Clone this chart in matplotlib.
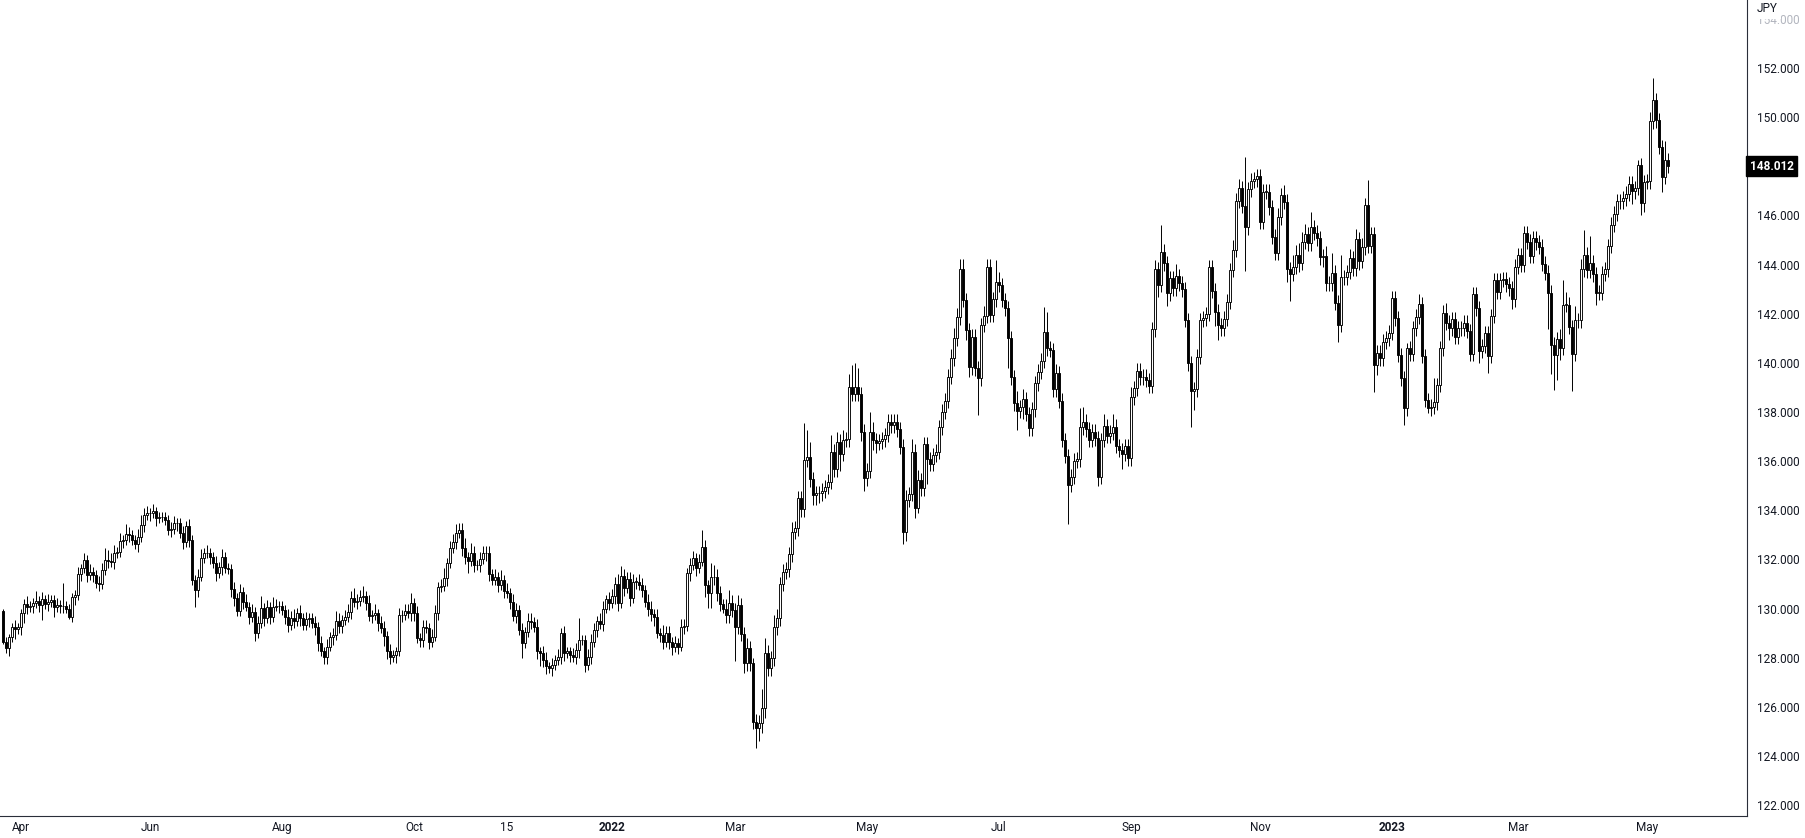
"""EUR/JPY daily candles, Mar 2021 - May 2023, TradingView-style hollow candles."""

import matplotlib

matplotlib.use("Agg")
import matplotlib.pyplot as plt  # noqa: E402
import numpy as np  # noqa: E402
import pandas as pd  # noqa: E402

INK = "#131722"
AXIS = "#2a2e39"
FADED = "#b2b5be"

FIRST_OPEN = 129.90
LAST_LABEL = "148.012"
START_DAY = "2021-03-24"

# daily closes
close_a = [128.65, 128.38, 128.85, 129.23, 129.15, 129.23, 129.80, 130.20, 130.07, 130.10,
           130.24, 130.30, 130.14, 130.37, 130.20, 130.28, 130.34, 130.07, 130.14, 130.12,
           130.10, 130.00, 129.67, 130.45, 130.55, 131.40, 131.63, 131.97, 131.36, 131.50,
           131.36, 131.02, 131.00, 131.56, 131.97, 131.95, 131.90, 132.27, 132.31, 132.76,
           132.79, 133.03, 133.00, 132.79, 132.62, 132.92, 133.40, 133.81]
close_b = [133.87, 133.90, 133.95, 133.67, 133.71, 133.71, 133.60, 133.20, 133.22, 133.47,
           133.47, 133.06, 132.72, 133.36, 132.79, 131.16, 130.75, 131.30, 132.04, 132.27,
           132.25, 132.10, 131.84, 131.43, 131.68, 132.11, 131.64, 131.60, 130.78, 130.42,
           129.91, 130.69, 130.28, 130.08, 129.67, 129.87, 128.99, 129.40, 130.01, 129.60,
           130.05, 129.67, 130.08, 130.10, 130.10, 129.95, 129.67]
close_c = [129.33, 129.60, 129.50, 129.83, 129.60, 129.33, 129.56, 129.60, 129.40, 129.24,
           128.59, 128.25, 128.04, 128.45, 128.83, 128.92, 129.51, 129.29, 129.53, 129.64,
           129.87, 130.42, 130.28, 130.31, 130.45, 130.51, 130.24, 129.70, 129.74, 129.80,
           129.40, 129.20, 128.88, 128.25, 128.04, 128.10, 128.25, 129.74, 129.74, 129.90,
           129.80, 130.24, 129.80, 128.79, 128.72, 129.24, 129.20]
close_d = [128.65, 128.86, 129.83, 130.87, 130.92, 131.23, 131.84, 132.45, 132.72, 133.06,
           133.20, 132.45, 132.11, 131.95, 132.25, 131.77, 131.77, 132.00, 132.25, 132.25,
           131.41, 131.16, 131.30, 130.96, 131.16, 130.73, 130.62, 130.28, 129.70, 129.94,
           129.13, 128.59, 129.06, 129.51, 129.47, 129.26, 128.25, 128.18, 127.91, 127.64,
           127.57, 127.70, 127.91, 128.04, 129.00, 128.18, 128.25]
close_e = [128.11, 128.04, 128.30, 128.72, 128.72, 127.70, 128.04, 128.65, 129.13, 129.50,
           129.37, 130.00, 130.37, 130.24, 130.50, 131.00, 130.21, 131.32, 130.82, 131.19,
           130.41, 131.09, 131.09, 130.95, 130.75, 130.28, 130.00, 129.78, 129.67, 128.99,
           128.92, 128.65, 128.99, 128.65, 128.42, 128.60, 128.45, 129.26, 129.29, 131.43,
           131.77, 132.04, 131.64, 131.91, 132.49, 130.96, 130.62]
close_f = [131.27, 131.29, 130.62, 130.18, 130.00, 129.73, 130.24, 129.94, 129.26, 130.13,
           128.96, 127.77, 128.38, 127.77, 125.39, 125.12, 125.35, 125.94, 128.20, 127.56,
           127.97, 129.23, 129.60, 131.00, 131.50, 131.59, 132.20, 133.13, 133.26, 134.48,
           134.04, 136.04, 136.18, 135.26, 134.62, 134.70, 134.69, 134.80, 134.95, 135.16,
           136.38, 135.66, 136.79, 136.29, 136.86, 136.88, 139.03]
close_g = [138.73, 139.00, 138.73, 137.20, 135.30, 135.61, 137.20, 136.86, 136.75, 136.80,
           136.89, 137.06, 137.60, 137.45, 137.60, 137.29, 136.59, 133.13, 134.42, 134.66,
           136.38, 134.08, 135.23, 134.89, 136.70, 136.07, 135.88, 136.25, 136.38, 137.37,
           138.01, 138.46, 139.44, 140.18, 141.00, 141.85, 143.81, 142.56, 141.34, 139.82,
           141.07, 139.78, 139.37, 141.54, 141.91, 143.91, 141.95]
close_h = [142.59, 143.30, 143.17, 142.56, 142.22, 141.00, 139.41, 138.35, 138.05, 138.20,
           138.52, 137.92, 137.34, 138.11, 139.17, 139.64, 140.09, 141.27, 140.59, 140.52,
           138.92, 139.57, 138.46, 136.86, 136.21, 135.03, 135.37, 136.02, 136.07, 137.38,
           137.61, 137.30, 136.86, 137.20, 136.93, 135.37, 136.86, 137.43, 137.02, 137.15,
           137.40, 136.62, 136.45, 136.29, 136.62, 136.11, 138.60]
close_i = [138.96, 139.68, 139.41, 139.44, 139.30, 139.06, 141.36, 143.80, 143.17, 144.52,
           144.05, 142.83, 143.44, 143.03, 143.53, 143.24, 143.00, 141.74, 139.98, 138.87,
           138.92, 140.25, 141.74, 141.81, 141.99, 143.89, 142.94, 142.08, 141.54, 141.40,
           141.80, 142.49, 143.78, 144.59, 146.60, 147.10, 146.38, 145.52, 147.06, 147.41,
           147.47, 147.60, 145.75, 146.97, 146.97, 146.33, 145.14]
close_j = [144.49, 145.92, 146.83, 146.56, 143.81, 143.62, 143.90, 144.39, 144.08, 144.93,
           145.24, 144.86, 145.52, 145.30, 145.07, 144.30, 144.35, 143.24, 143.24, 143.67,
           142.45, 141.54, 143.48, 143.48, 143.70, 144.25, 143.85, 145.03, 144.16, 144.70,
           146.43, 144.76, 145.24, 139.91, 140.41, 140.18, 140.86, 141.00, 141.23, 142.63,
           141.81, 140.32, 139.37, 138.15, 140.59, 140.36]
close_k = [141.41, 141.88, 142.40, 140.28, 138.49, 138.15, 138.22, 138.40, 139.10, 140.59,
           142.04, 141.64, 141.41, 141.77, 141.07, 141.41, 141.41, 141.64, 141.30, 140.36,
           142.80, 142.22, 140.50, 140.69, 141.20, 140.28, 141.91, 143.37, 142.90, 143.37,
           143.40, 143.20, 143.03, 142.59, 143.92, 144.39, 143.98, 145.27, 144.93, 144.35,
           145.07, 144.90, 144.73, 144.03, 143.67, 142.86]
close_l = [140.74, 140.30, 140.96, 140.60, 142.37, 142.37, 141.46, 140.37, 141.73, 141.73,
           143.81, 144.40, 143.77, 144.08, 143.60, 142.86, 142.86, 143.63, 143.81, 144.76,
           145.62, 146.07, 146.57, 146.57, 146.70, 146.89, 147.29, 146.98, 147.12, 148.04,
           146.52, 147.36, 147.39, 149.83, 150.68, 149.87, 148.79, 147.56, 148.24, 148.01]

# wick lengths beyond the body, in tenths of a yen (upper / lower)
up_a = [1, 2, 1, 2, 3, 2, 2, 2, 3, 2, 2, 4, 2, 3, 2, 3, 2, 2, 3, 2, 9, 2, 2, 2, 2, 3, 2, 3, 2, 3,
        2, 2, 3, 3, 5, 4, 3, 3, 2, 3, 2, 4, 3, 2, 2, 3, 4, 3]
dn_a = [1, 2, 3, 2, 4, 2, 3, 4, 3, 2, 3, 2, 3, 6, 2, 3, 2, 4, 2, 3, 3, 2, 1, 2, 3, 2, 3, 2, 3, 2,
        3, 2, 3, 2, 2, 3, 2, 3, 2, 2, 3, 2, 3, 2, 2, 3, 2, 3]
up_b = [3, 2, 3, 2, 2, 2, 2, 2, 3, 3, 2, 2, 3, 2, 3, 2, 2, 3, 4, 2, 3, 2, 2, 3, 2, 3, 2, 2, 2, 3,
        2, 3, 2, 3, 2, 3, 2, 3, 5, 2, 3, 2, 4, 3, 2, 2, 2]
dn_b = [2, 3, 2, 3, 2, 2, 2, 2, 3, 2, 3, 2, 3, 2, 3, 2, 7, 3, 2, 2, 2, 3, 2, 3, 2, 3, 2, 2, 3, 3,
        2, 2, 3, 2, 3, 2, 3, 2, 2, 3, 2, 3, 2, 2, 3, 2, 3]
up_c = [3, 3, 4, 2, 3, 2, 3, 2, 2, 3, 2, 3, 2, 3, 2, 3, 4, 3, 2, 3, 3, 3, 4, 3, 3, 4, 2, 3, 2, 4,
        2, 3, 3, 2, 3, 2, 2, 3, 2, 3, 3, 4, 2, 3, 2, 3, 3]
dn_c = [3, 2, 3, 2, 3, 2, 2, 3, 2, 3, 3, 2, 3, 3, 2, 3, 2, 3, 3, 2, 2, 3, 2, 3, 2, 2, 3, 2, 3, 2,
        3, 2, 4, 3, 3, 2, 3, 2, 3, 2, 2, 3, 3, 2, 3, 3, 2]
up_d = [2, 3, 3, 2, 3, 4, 2, 3, 3, 4, 3, 3, 4, 2, 4, 3, 2, 3, 3, 3, 3, 2, 3, 2, 4, 2, 3, 2, 3, 3,
        2, 3, 2, 3, 3, 2, 3, 2, 3, 3, 2, 3, 2, 3, 2, 3, 2]
dn_d = [3, 2, 2, 3, 2, 2, 3, 2, 2, 3, 2, 3, 3, 5, 2, 3, 2, 3, 2, 3, 3, 2, 2, 3, 2, 3, 2, 3, 2, 3,
        2, 6, 2, 2, 3, 2, 3, 5, 3, 3, 2, 3, 2, 2, 3, 3, 2]
up_e = [2, 3, 3, 9, 2, 2, 3, 3, 3, 2, 3, 3, 2, 3, 3, 3, 4, 4, 3, 3, 3, 3, 2, 3, 3, 2, 3, 3, 2, 3,
        2, 4, 3, 3, 2, 3, 2, 3, 3, 2, 3, 3, 2, 3, 7, 3, 2]
dn_e = [3, 2, 3, 3, 2, 3, 2, 3, 2, 3, 2, 3, 2, 3, 2, 3, 3, 2, 3, 2, 3, 2, 3, 2, 3, 2, 3, 3, 4, 2,
        3, 3, 2, 3, 3, 2, 3, 2, 3, 2, 3, 2, 3, 2, 2, 5, 6]
up_f = [6, 5, 3, 3, 2, 4, 5, 3, 3, 4, 3, 3, 4, 3, 2, 3, 3, 8, 6, 3, 3, 5, 4, 3, 3, 3, 3, 4, 3, 3,
        3, 15, 11, 6, 3, 3, 3, 3, 3, 3, 7, 3, 4, 3, 4, 3, 5]
dn_f = [6, 3, 3, 3, 2, 3, 3, 3, 14, 3, 3, 4, 3, 3, 3, 8, 5, 4, 4, 3, 3, 3, 3, 3, 3, 3, 3, 3, 3, 3,
        3, 3, 3, 3, 4, 4, 4, 3, 3, 3, 3, 3, 3, 7, 3, 3, 3]
up_g = [9, 10, 8, 3, 3, 3, 8, 4, 3, 3, 3, 3, 3, 3, 3, 3, 3, 3, 4, 3, 5, 3, 4, 3, 3, 3, 3, 3, 3, 3,
        3, 3, 3, 4, 4, 4, 4, 4, 3, 3, 3, 3, 3, 3, 4, 3, 3]
dn_g = [3, 3, 3, 4, 5, 3, 3, 4, 4, 3, 3, 3, 3, 3, 3, 3, 3, 5, 4, 3, 3, 4, 2, 3, 3, 10, 3, 3, 3, 3,
        3, 3, 3, 3, 3, 3, 3, 3, 4, 4, 3, 3, 15, 3, 3, 3, 3]
up_h = [3, 9, 4, 3, 3, 3, 3, 3, 5, 3, 4, 3, 3, 3, 3, 3, 3, 10, 8, 3, 3, 4, 3, 3, 3, 3, 3, 3, 3, 8,
        6, 3, 3, 3, 3, 3, 3, 5, 3, 3, 5, 3, 3, 3, 3, 3, 4]
dn_h = [3, 3, 3, 3, 3, 12, 3, 3, 8, 3, 5, 3, 3, 3, 3, 3, 3, 3, 3, 3, 3, 3, 3, 3, 3, 16, 3, 3, 3, 3,
        3, 3, 3, 3, 3, 4, 3, 3, 3, 3, 3, 3, 3, 6, 3, 3, 3]
up_i = [3, 3, 3, 3, 3, 3, 3, 4, 3, 11, 3, 3, 3, 3, 5, 3, 3, 3, 3, 3, 3, 3, 3, 3, 3, 3, 3, 3, 3, 3,
        3, 3, 3, 4, 3, 4, 3, 20, 3, 3, 3, 3, 3, 3, 3, 3, 3]
dn_i = [3, 3, 3, 3, 3, 3, 3, 3, 5, 3, 3, 5, 3, 3, 3, 3, 3, 3, 3, 15, 8, 3, 3, 3, 3, 3, 3, 6, 6, 3,
        3, 3, 3, 3, 3, 3, 3, 18, 3, 3, 3, 3, 3, 3, 3, 3, 3]
up_j = [3, 4, 3, 4, 3, 3, 5, 4, 5, 4, 4, 3, 6, 3, 3, 3, 3, 4, 3, 8, 3, 3, 9, 3, 3, 4, 3, 4, 3, 4,
        3, 10, 3, 3, 3, 3, 3, 3, 3, 3, 3, 3, 3, 3, 2, 3]
dn_j = [3, 3, 3, 3, 5, 11, 3, 3, 4, 3, 3, 3, 3, 3, 3, 3, 4, 3, 3, 3, 3, 7, 3, 3, 3, 3, 3, 3, 4, 3,
        3, 3, 3, 11, 4, 3, 3, 3, 3, 3, 3, 3, 3, 7, 3, 3]
up_k = [3, 3, 4, 3, 3, 3, 3, 10, 3, 3, 3, 4, 3, 3, 3, 3, 3, 3, 3, 3, 3, 3, 3, 3, 3, 3, 3, 3, 3, 3,
        3, 3, 3, 3, 3, 3, 3, 3, 3, 3, 3, 3, 3, 3, 3, 3]
dn_k = [3, 3, 3, 3, 3, 2, 3, 3, 3, 3, 3, 3, 5, 3, 3, 3, 3, 3, 3, 3, 3, 3, 5, 3, 3, 7, 3, 3, 3, 3,
        3, 3, 3, 4, 3, 3, 3, 3, 3, 3, 3, 3, 3, 3, 3, 15]
up_l = [3, 3, 3, 4, 10, 5, 3, 3, 6, 3, 4, 10, 3, 11, 3, 3, 3, 3, 3, 3, 3, 3, 3, 3, 3, 3, 3, 3, 3, 2,
        3, 3, 3, 4, 9, 3, 3, 3, 8, 3]
dn_l = [12, 14, 10, 5, 3, 3, 3, 15, 3, 3, 3, 3, 3, 3, 3, 5, 3, 3, 3, 3, 3, 3, 3, 3, 3, 3, 3, 5, 3, 3,
        5, 4, 3, 3, 3, 3, 3, 6, 3, 3]

# time axis labels as TradingView prints them
TICK_DATES = ["2021-04-01", "2021-06-01", "2021-08-02", "2021-10-01", "2021-11-15",
              "2022-01-03", "2022-03-01", "2022-05-02", "2022-07-01", "2022-09-01",
              "2022-11-01", "2023-01-02", "2023-03-01", "2023-05-01"]
TICK_TEXT = ["Apr", "Jun", "Aug", "Oct", "15", "2022", "Mar", "May", "Jul", "Sep",
             "Nov", "2023", "Mar", "May"]
PRICE_TICKS = list(range(122, 156, 2))


def main() -> None:
    closes = np.array(close_a + close_b + close_c + close_d + close_e + close_f
                      + close_g + close_h + close_i + close_j + close_k + close_l)
    ups = np.array(up_a + up_b + up_c + up_d + up_e + up_f
                   + up_g + up_h + up_i + up_j + up_k + up_l) / 10
    dns = np.array(dn_a + dn_b + dn_c + dn_d + dn_e + dn_f
                   + dn_g + dn_h + dn_i + dn_j + dn_k + dn_l) / 10
    assert len(closes) == len(ups) == len(dns), (len(closes), len(ups), len(dns))

    opens = np.r_[FIRST_OPEN, closes[:-1]]
    top = np.maximum(opens, closes)
    bot = np.minimum(opens, closes)
    highs = top + ups
    lows = bot - dns
    rising = closes >= opens
    x = np.arange(len(closes))
    days = pd.bdate_range(START_DAY, periods=len(closes))

    plt.rcParams.update({
        "font.family": ["Roboto", "DejaVu Sans"],
        "font.size": 8.5,
        "text.color": INK,
        "xtick.color": INK,
        "ytick.color": INK,
    })

    W, H = 1806, 838
    axis_x, axis_y = 1747.5, 815.6  # price-axis and time-axis lines, px
    fig = plt.figure(figsize=(W / 100, H / 100), dpi=100)
    ax = fig.add_axes([0, 1 - axis_y / H, axis_x / W, axis_y / H])

    ax.vlines(x, lows, highs, color="black", lw=0.7, zorder=2)
    ax.bar(x, np.maximum(top - bot, 0.015), bottom=bot, width=0.7,
           color=np.where(rising, "white", "black"), edgecolor="black",
           linewidth=0.65, zorder=3)

    ax.set_xlim(-1, 581.5)
    ax.set_ylim(121.57, 154.77)

    pos = [days.searchsorted(pd.Timestamp(d)) for d in TICK_DATES]
    ax.set_xticks(pos)
    ax.set_xticklabels(TICK_TEXT)
    for lab in ax.get_xticklabels():
        if lab.get_text().isdigit() and len(lab.get_text()) == 4:
            lab.set_fontweight("bold")

    # the price tag hides the round-number label it sits on, as on the platform
    last = round(closes[-1])
    ax.yaxis.tick_right()
    ax.set_yticks(PRICE_TICKS)
    ax.set_yticklabels(["" if v == last else f"{v:.3f}" for v in PRICE_TICKS])
    ax.get_yticklabels()[-1].set_color(FADED)
    ax.tick_params(axis="y", length=0, pad=6.8)
    ax.tick_params(axis="x", length=0, pad=4)

    for s in ("top", "left"):
        ax.spines[s].set_visible(False)
    for s in ("right", "bottom"):
        ax.spines[s].set_color(AXIS)
        ax.spines[s].set_linewidth(0.8)

    # last price tag on the price axis
    ax.text(1.0012, closes[-1], LAST_LABEL, transform=ax.get_yaxis_transform(),
            ha="left", va="center", color="white", fontweight="bold",
            fontsize=8.5, zorder=5, clip_on=False,
            bbox=dict(boxstyle="square,pad=0.28", fc="black", ec="black"))
    fig.text(1757 / W, 1 - 9 / H, "JPY", ha="left", va="center", fontsize=8.5,
             color=INK, bbox=dict(boxstyle="square,pad=0.3", fc="white", ec="none"))

    fig.savefig("out.png", dpi=100, facecolor="white")


if __name__ == "__main__":
    main()
